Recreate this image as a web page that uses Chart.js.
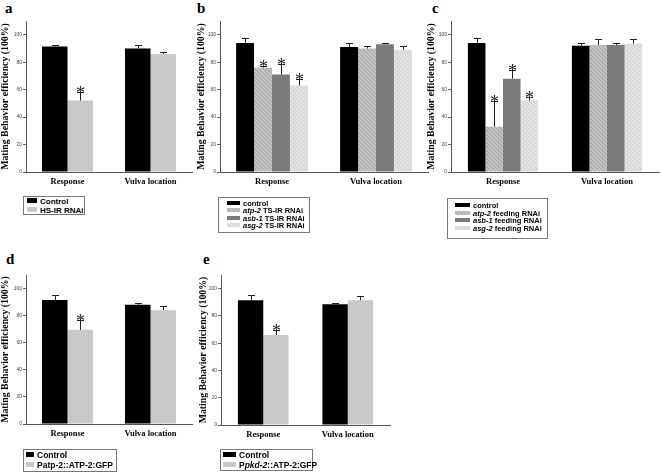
<!DOCTYPE html>
<html>
<head>
<meta charset="utf-8">
<script src="https://cdn.jsdelivr.net/npm/chart.js@4"></script>
<style>
body{margin:0;background:#fff;width:661px;height:473px;position:relative;overflow:hidden}
canvas.p{position:absolute}
.lt{position:absolute;font:bold 15px "Liberation Serif",serif;line-height:17px}
.lg{position:absolute;border:1px solid #777;box-sizing:border-box;font-family:"Liberation Sans",Arial,sans-serif;font-weight:bold;color:#000}
.lg div{white-space:nowrap}
.lg canvas{vertical-align:middle;margin-right:3px;position:relative;top:-1px}
</style>
</head>
<body>
<div class="lt" style="left:5px;top:0px">a</div>
<div class="lt" style="left:197px;top:0px">b</div>
<div class="lt" style="left:432px;top:0px">c</div>
<div class="lt" style="left:6px;top:251px">d</div>
<div class="lt" style="left:203px;top:251px">e</div>
<script>
//공통
var groups = ['Response', 'Vulva location'];
var tickVals = [0, 20, 40, 60, 80, 100];
var yTitle = 'Mating Behavior efficiency (100%)';

//a
var aNames = ['Control', 'HS-IR RNAi'];
var aControl = [91.5, 90], aControlErr = [0.8, 2.5];
var aHsir = [52, 86], aHsirErr = [6.5, 1.5], aHsirStar = [true, false];

//b
var bNames = ['control', '<i>atp-2</i> TS-IR RNAi', '<i>asb-1</i> TS-IR RNAi', '<i>asg-2</i> TS-IR RNAi'];
var bControl = [94, 91], bControlErr = [3.5, 2.8];
var bAtp = [76, 90], bAtpErr = [1.5, 1.8], bAtpStar = [true, false];
var bAsb = [71, 93], bAsbErr = [8, 1.2], bAsbStar = [true, false];
var bAsg = [63, 89], bAsgErr = [4.5, 2.8], bAsgStar = [true, false];

//c
var cNames = ['control', '<i>atp-2</i> feeding RNAi', '<i>asb-1</i> feeding RNAi', '<i>asg-2</i> feeding RNAi'];
var cControl = [94, 92], cControlErr = [3.5, 2.3];
var cAtp = [33, 92.5], cAtpErr = [18.5, 4.5], cAtpStar = [true, false];
var cAsb = [68, 92.5], cAsbErr = [6.5, 1.2], cAsbStar = [true, false];
var cAsg = [52, 93.5], cAsgErr = [3, 3.5], cAsgStar = [true, false];

//d
var dNames = ['Control', 'Patp-2::ATP-2:GFP'];
var dControl = [91.5, 88], dControlErr = [3.8, 1.2];
var dGfp = [69.5, 84], dGfpErr = [7, 3], dGfpStar = [true, false];

//e
var eNames = ['Control', 'P<i>pkd-2</i>::ATP-2:GFP'];
var eControl = [91.5, 88.5], eControlErr = [4, 1.2];
var eGfp = [66, 91.5], eGfpErr = [4, 3], eGfpStar = [true, false];

//채우기
function hatch(bg, fg) {
	var c = document.createElement('canvas');
	c.width = 4; c.height = 4;
	var x = c.getContext('2d');
	x.fillStyle = bg; x.fillRect(0, 0, 4, 4);
	x.strokeStyle = fg; x.lineWidth = 1;
	x.beginPath(); x.moveTo(0, 0); x.lineTo(4, 4); x.stroke();
	return x.createPattern(c, 'repeat');
}
var cBlack = '#000000', cLight = '#c9c9c9', cMid = '#7b7b7b';
var cHatch1 = hatch('#c2c2c2', '#a2a2a2');
var cHatch2 = hatch('#e2e2e2', '#cfcfcf');

//에러바 + 별표
var errPlugin = {
	id: 'errs',
	afterDatasetsDraw: function(chart) {
		var ctx = chart.ctx, y = chart.scales.y;
		chart.data.datasets.forEach(function(ds, i) {
			chart.getDatasetMeta(i).data.forEach(function(bar, j) {
				var top = Math.round(y.getPixelForValue(ds.data[j] + ds.errors[j]));
				var bx = Math.round(bar.x);
				ctx.save();
				ctx.strokeStyle = '#222'; ctx.lineWidth = 1;
				ctx.beginPath();
				ctx.moveTo(bx + .5, bar.y); ctx.lineTo(bx + .5, top);
				ctx.moveTo(bx - 3, top + .5); ctx.lineTo(bx + 4, top + .5);
				ctx.stroke();
				if (ds.stars && ds.stars[j]) {
					ctx.fillStyle = '#222';
					ctx.font = '18px "Liberation Serif", serif';
					ctx.textAlign = 'center'; ctx.textBaseline = 'middle';
					ctx.fillText('*', bx + .5, top + 2);
				}
				ctx.restore();
			});
		});
	}
};

function panel(p) {
	var cv = document.createElement('canvas');
	cv.className = 'p';
	cv.width = p.box[2]; cv.height = p.box[3];
	cv.style.left = p.box[0] + 'px'; cv.style.top = p.box[1] + 'px';
	cv.style.width = p.box[2] + 'px'; cv.style.height = p.box[3] + 'px';
	document.body.appendChild(cv);

	var datasets = p.series.map(function(s) {
		return {
			data: s.data, errors: s.err, stars: s.star,
			backgroundColor: s.fill, borderWidth: 0,
			categoryPercentage: p.cat, barPercentage: 1
		};
	});

	new Chart(cv, {
		type: 'bar',
		data: { labels: groups, datasets: datasets },
		options: {
			responsive: false,
			animation: false,
			layout: { padding: { top: p.area[1] - p.box[1], right: p.box[0] + p.box[2] - p.area[2], left: 0, bottom: 0 } },
			plugins: { legend: { display: false }, tooltip: { enabled: false } },
			scales: {
				x: {
					grid: { display: false, drawTicks: false },
					border: { color: '#555' },
					ticks: { color: '#000', padding: 5, font: { family: '"Liberation Serif", serif', weight: 'bold', size: 8.5 } },
					afterFit: function(s) { s.height = p.box[1] + p.box[3] - p.area[3]; }
				},
				y: {
					min: 0, max: 110,
					afterBuildTicks: function(s) { s.ticks = tickVals.map(function(v) { return { value: v }; }); },
					grid: { drawOnChartArea: false, tickLength: 3, color: '#666' },
					border: { color: '#555' },
					ticks: { color: '#444', padding: 1, font: { family: '"Liberation Sans", sans-serif', size: 5 } },
					title: { display: true, text: yTitle, color: '#000', padding: 0, font: { family: '"Liberation Serif", serif', weight: 'bold', size: 9.8 } },
					afterFit: function(s) { s.width = p.area[0] - p.box[0]; }
				}
			}
		},
		plugins: [errPlugin]
	});
}

function legend(l) {
	var d = document.createElement('div');
	d.className = 'lg';
	d.style.left = l.box[0] + 'px'; d.style.top = l.box[1] + 'px';
	d.style.width = l.box[2] + 'px'; d.style.height = l.box[3] + 'px';
	d.style.fontSize = l.font + 'px';
	d.style.paddingTop = l.padTop + 'px'; d.style.paddingLeft = l.padLeft + 'px';
	l.names.forEach(function(n, i) {
		var row = document.createElement('div');
		row.style.height = l.row + 'px'; row.style.lineHeight = l.row + 'px';
		var sw = document.createElement('canvas');
		sw.width = l.sw[0]; sw.height = l.sw[1];
		var x = sw.getContext('2d');
		x.fillStyle = l.fills[i]; x.fillRect(0, 0, l.sw[0], l.sw[1]);
		row.appendChild(sw);
		var t = document.createElement('span');
		t.innerHTML = n;
		row.appendChild(t);
		d.appendChild(row);
	});
	document.body.appendChild(d);
}

//a
panel({ box: [0, 10, 200, 185], area: [26, 21, 192, 172], cat: 0.615, series: [
	{ data: aControl, err: aControlErr, fill: cBlack },
	{ data: aHsir, err: aHsirErr, star: aHsirStar, fill: cLight }
]});
legend({ box: [23, 196, 62, 19], font: 8, row: 9, padTop: 0, padLeft: 3, sw: [10, 5], names: aNames, fills: [cBlack, cLight] });

//b
panel({ box: [196, 10, 235, 185], area: [220, 21, 428, 172], cat: 0.69, series: [
	{ data: bControl, err: bControlErr, fill: cBlack },
	{ data: bAtp, err: bAtpErr, star: bAtpStar, fill: cHatch1 },
	{ data: bAsb, err: bAsbErr, star: bAsbStar, fill: cMid },
	{ data: bAsg, err: bAsgErr, star: bAsgStar, fill: cHatch2 }
]});
legend({ box: [218, 197, 92, 36], font: 7.5, row: 7.3, padTop: 2, padLeft: 8, sw: [13, 4], names: bNames, fills: [cBlack, cHatch1, cMid, cHatch2] });

//c
panel({ box: [426, 10, 235, 185], area: [451, 21, 659, 172], cat: 0.675, series: [
	{ data: cControl, err: cControlErr, fill: cBlack },
	{ data: cAtp, err: cAtpErr, star: cAtpStar, fill: cHatch1 },
	{ data: cAsb, err: cAsbErr, star: cAsbStar, fill: cMid },
	{ data: cAsg, err: cAsgErr, star: cAsgStar, fill: cHatch2 }
]});
legend({ box: [447, 198, 101, 41], font: 7.5, row: 7.5, padTop: 3, padLeft: 7, sw: [15, 4], names: cNames, fills: [cBlack, cHatch1, cMid, cHatch2] });

//d
panel({ box: [0, 262, 200, 188], area: [26, 275, 192, 424], cat: 0.615, series: [
	{ data: dControl, err: dControlErr, fill: cBlack },
	{ data: dGfp, err: dGfpErr, star: dGfpStar, fill: cLight }
]});
legend({ box: [23, 449, 94, 23], font: 8.5, row: 10, padTop: 0, padLeft: 2, sw: [8, 5], names: dNames, fills: [cBlack, cLight] });

//e
panel({ box: [198, 262, 200, 188], area: [221, 275, 390, 425], cat: 0.6, series: [
	{ data: eControl, err: eControlErr, fill: cBlack },
	{ data: eGfp, err: eGfpErr, star: eGfpStar, fill: cLight }
]});
legend({ box: [220, 449, 93, 22], font: 8.5, row: 10, padTop: 0, padLeft: 2, sw: [13, 5], names: eNames, fills: [cBlack, cLight] });
</script>
</body>
</html>
